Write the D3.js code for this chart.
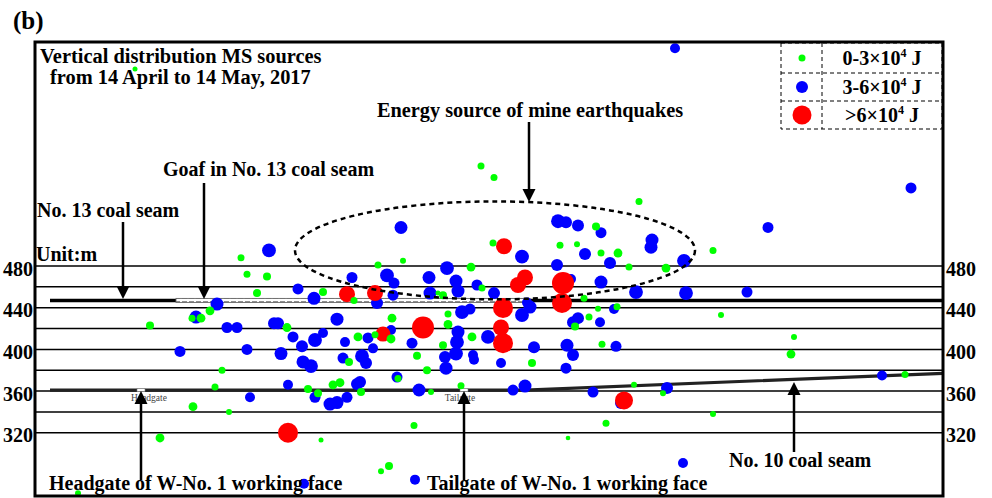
<!DOCTYPE html>
<html><head><meta charset="utf-8">
<script src="https://cdn.jsdelivr.net/npm/d3@7"></script>
<style>
body{margin:0;background:#fff}
svg{display:block}
text{font-family:"Liberation Serif","Times New Roman",serif;fill:#000}
</style>
</head><body>
<svg id="c" width="992" height="498"></svg>
<script>
// ---------------- DATA ----------------
// elevation gridlines (m) and labelled ticks
const gridElevations = [320, 340, 360, 380, 400, 420, 440, 460, 480];
const tickLabels = [320, 360, 400, 440, 480];
// legend classes (energy ×10^4 J)
const legendLabels = ["0-3×10", "3-6×10", ">6×10"];
const legendEnergy = [1.8, 4.8, 9.0];
// MS sources: [horizontal distance (m), elevation (m), energy (×10^4 J)]
const lowEnergy = [
  [100,669,0.6],[206,488,1.8],[212,472,1.8],[232,470,2.4],[222,454,2.4],[288,455,2.4],
  [175,437,2.9],[166,430,2.9],[157,430,1.8],[115,423,2.4],[252,421,2.9],[187,380,1.8],
  [180,364,1.8],[273,362,2.4],[283,358,2.4],[158,345,2.9],[194,340,1.2],[125,315,2.9],
  [286,313,0.6],[43,262,1.2],[343,481,1.8],[319,447,1.8],[323,412,2.9],[340,414,1.8],
  [314,388,2.4],[298,366,2.9],[305,368,2.9],[326,359,2.4],[458,502,1.8],[525,500,1.8],
  [542,501,1.2],[368,485,1.2],[436,479,2.9],[447,459,1.8],[549,449,1.8],[408,452,2.4],
  [403,454,0.6],[413,434,1.8],[413,424,2.9],[408,404,2.4],[437,412,2.9],[497,387,2.4],
  [540,422,2.4],[554,431,1.8],[357,430,2.9],[356,410,2.9],[382,394,2.4],[392,380,2.4],
  [363,372,1.8],[396,359,1.2],[426,365,1.8],[599,366,1.2],[571,329,1.8],[533,315,0.4],
  [379,327,1.8],[354,288,2.4],[346,283,1.2],[566,492.5,1.8],[583,492.5,2.9],[594,479,1.8],
  [563,439,1.2],[582,441,1.8],[567,405,1.8],[446,576,1.8],[459,565,1.8],[604,542,1.8],
  [561,518,2.4],[631,478,2.9],[678,495,1.8],[686,433,1.2],[759,412,1.2],[756,395.5,2.9],
  [628,358,1.2],[678,338,1.2],[870,376,1.8]
];
const midEnergy = [
  [234,495,5.9],[263,458,4.2],[279,449,5.4],[182,443.5,5.4],[161,431,5.4],[192,421,4.2],
  [202,421,4.2],[239,425,4.8],[243,425,4.8],[258,412,4.2],[280,409,5.9],[288,415.7,3.6],
  [267,403,4.8],[145,398,4.2],[212,400,4.2],[246,396,5.4],[268,388,5.4],[276,384,5.9],
  [253,366,3.6],[280,354,4.2],[215,354,3.6],[295,347.5,5.4],[302,349,5.4],[269,271,3.6],
  [317,469,4.2],[342,444.5,4.8],[302,429,5.4],[310,407,3.6],[333,411,4.2],[338,401,3.6],
  [308,391.7,4.2],[327,393.6,5.9],[331,387,4.8],[312,354,4.2],[322,366.7,4.8],[325,368.6,4.8],
  [550,491.5,4.8],[487,489,5.9],[522,481,4.8],[412,478,5.9],[352,471,5.9],[359,463.7,4.2],
  [394,469,5.4],[421,465.6,5.4],[423,456,5.4],[395,454,5.4],[442,461.8,4.2],[459,454,4.8],
  [487,433,5.9],[495,440.6,5.4],[492,445,3.6],[358,452,4.2],[427,435.8,5.9],[435,438.7,4.2],
  [423,416.6,5.4],[422,407,5.9],[421,396,5.9],[410,392.6,4.8],[411,382,5.4],[438,394.6,3.6],
  [439,390,3.6],[453,412,5.9],[466,387,3.6],[499,402,4.8],[532,404,5.4],[538,394.6,4.8],
  [531,382,4.2],[538,426,4.8],[543,430,4.8],[356,418.6,3.6],[377,406,4.2],[362,373.4,4.2],
  [384,361,5.4],[478,361,4.2],[490,364.8,5.4],[558,359,4.2],[586,348.5,4.8],[380,275,3.6],
  [566,512,4.2],[575,483,4.8],[617,505,5.4],[616,498,5.4],[566,464.6,5.4],[536,467.5,3.6],
  [601,455,5.9],[579,438.7,3.6],[565,426,3.6],[581,403,4.2],[366,517,5.4],[523,523,5.9],
  [531,522,4.8],[543,519,4.8],[649,485,5.9],[733,517,4.2],[651,454,5.9],[712,455,4.2],
  [632,363,4.8],[847,375,3.6],[648,291,3.6],[640,689,3.6],[876,555,4.2]
];
const highEnergy = [
  [253,320,9.6],[312,453,7.2],[340,454,7.2],[469,499,7.2],[483,461.8,7.2],[490,469,7.2],
  [528,463.7,10.8],[527,444.5,9.6],[468,439.7,9.6],[466,421,7.2],[468,406,9.6],[388,421,10.8],
  [348,414.7,6.6],[589,351,8.4]
];
// geological features: [distance, elevation]
const seam13Elev = 447;
const seam13Extent = [15, 908];
const goafExtent = [141, 495];
const seam10 = [[15,361],[490,361],[908,377]];
const roadways = [[106,"Headgate",114],[429,"Tailgate",425]];
const energyZone = {cx: 460, cy: 495, rx: 200, ry: 47};

// ---------------- CHART ----------------
const svg = d3.select("#c");
const x = d3.scaleLinear().domain([0, 908]).range([35, 943]);
const y = d3.scaleLinear().domain([259.3, 695]).range([496, 42]);
const r = d3.scaleLinear().domain([0, 12]).range([2, 12]);
const FONT = '"Liberation Serif","Times New Roman",serif';

const defs = svg.append("defs");
const pat = defs.append("pattern").attr("id","hatch").attr("patternUnits","userSpaceOnUse")
  .attr("width",7).attr("height",4).attr("y", 0);
pat.append("rect").attr("width",7).attr("height",4).attr("fill","#fff");
pat.append("rect").attr("x",0).attr("y",1.2).attr("width",5).attr("height",1.6).attr("fill","#777");

// gridlines
svg.append("g").selectAll("line").data(gridElevations).join("line")
  .attr("x1", x(0)).attr("x2", x(908))
  .attr("y1", d => y(d)).attr("y2", d => y(d))
  .attr("stroke", "#000").attr("stroke-width", 1.5);

// axes labels
const axL = svg.append("g").attr("transform", `translate(${x(0)},0)`)
  .call(d3.axisLeft(y).tickValues(tickLabels).tickSize(0).tickPadding(2));
const axR = svg.append("g").attr("transform", `translate(${x(908)},0)`)
  .call(d3.axisRight(y).tickValues(tickLabels).tickSize(0).tickPadding(3));
[axL, axR].forEach(a => {
  a.select(".domain").remove();
  a.selectAll("text").attr("font-size", 20).style("font-weight","bold")
    .attr("font-family", FONT).attr("dy","0.45em").style("fill","#000");
});

// No. 13 coal seam
svg.append("line").attr("x1", x(seam13Extent[0])).attr("x2", x(goafExtent[0]))
  .attr("y1", y(seam13Elev)).attr("y2", y(seam13Elev)).attr("stroke","#000").attr("stroke-width",3.5);
svg.append("line").attr("x1", x(goafExtent[1])).attr("x2", x(seam13Extent[1]))
  .attr("y1", y(seam13Elev)).attr("y2", y(seam13Elev)).attr("stroke","#000").attr("stroke-width",3.5);
svg.append("rect").attr("x", x(goafExtent[0])).attr("y", y(seam13Elev)-2)
  .attr("width", x(goafExtent[1]) - x(goafExtent[0])).attr("height", 4)
  .attr("fill","url(#hatch)").attr("stroke","#666").attr("stroke-width",0.9);

// No. 10 coal seam
svg.append("path").attr("d", d3.line().x(d => x(d[0])).y(d => y(d[1]))(seam10))
  .attr("fill","none").attr("stroke","#222").attr("stroke-width",3.2);

// roadway markers
roadways.forEach(([d, name, lab]) => {
  svg.append("rect").attr("x", x(d)-4).attr("y", y(361)-1.5).attr("width",8).attr("height",3)
    .attr("fill","#fff").attr("stroke","#777").attr("stroke-width",0.6);
  svg.append("text").attr("x", x(lab)).attr("y", y(361)+11).attr("text-anchor","middle")
    .attr("font-size",9.5).style("font-weight","normal").style("fill","#444").text(name);
});

// MS sources
const drawPts = (data, color) => svg.append("g").selectAll("circle").data(data).join("circle")
  .attr("cx", d => x(d[0])).attr("cy", d => y(d[1])).attr("r", d => r(d[2])).attr("fill", color);
drawPts(midEnergy, "#0000ff");
drawPts(highEnergy, "#ff0000");
drawPts(lowEnergy, "#00ff00");

// energy zone ellipse
svg.append("ellipse").attr("cx", x(energyZone.cx)).attr("cy", y(energyZone.cy))
  .attr("rx", x(energyZone.rx) - x(0)).attr("ry", y(0) - y(energyZone.ry))
  .attr("fill","none").attr("stroke","#000").attr("stroke-width",2.5).attr("stroke-dasharray","5,4");

// frame
svg.append("rect").attr("x", x(0)).attr("y", y(695)).attr("width", x(908)-x(0)).attr("height", y(259.3)-y(695))
  .attr("fill","none").attr("stroke","#000").attr("stroke-width",3);

// arrows
function arrow(xa, y0, yTip) {
  const dir = yTip > y0 ? 1 : -1;
  svg.append("line").attr("x1", xa).attr("x2", xa).attr("y1", y0).attr("y2", yTip - dir*10)
    .attr("stroke","#000").attr("stroke-width",2.5);
  svg.append("path").attr("d", `M${xa-6.5},${yTip-dir*13}L${xa+6.5},${yTip-dir*13}L${xa},${yTip}Z`).attr("fill","#000");
}
arrow(123, 222, 299);
arrow(204, 183, 299);
arrow(529, 122, 202);
arrow(141, 480, 391);
arrow(464, 480, 391);
arrow(794, 452, 382);

// texts
const T = (xx, yy, s, size=20, anchor="start") => svg.append("text").attr("x", xx).attr("y", yy)
  .attr("font-size", size).attr("text-anchor", anchor).style("font-weight","bold").text(s);
T(13, 29, "(b)", 25);
T(40, 63, "Vertical distribution MS sources", 20.4);
T(50, 84, "from 14 April to 14 May, 2017", 20.4);
T(377, 117, "Energy source of mine earthquakes", 20.3);
T(163, 176, "Goaf in No. 13 coal seam");
T(37, 217, "No. 13 coal seam");
T(36, 261, "Unit:m");
T(729, 467, "No. 10 coal seam");
T(49, 490, "Headgate of W-No. 1 working face");
T(427, 490, "Tailgate of W-No. 1 working face");

// legend
const lg = svg.append("g");
const lx0 = 781, lx1 = 822, lx2 = 942, ly = [43, 73, 101, 129];
const dashed = s => s.attr("stroke","#000").attr("stroke-width",1).attr("stroke-dasharray","4,3").attr("fill","none");
dashed(lg.append("rect").attr("x", lx0).attr("y", ly[0]).attr("width", lx2-lx0).attr("height", ly[3]-ly[0]));
dashed(lg.append("line").attr("x1", lx1).attr("x2", lx1).attr("y1", ly[0]).attr("y2", ly[3]));
[ly[1], ly[2]].forEach(v => dashed(lg.append("line").attr("x1", lx0).attr("x2", lx2).attr("y1", v).attr("y2", v)));
const colors = ["#00ff00","#0000ff","#ff0000"];
legendLabels.forEach((lab, i) => {
  const cy = (ly[i] + ly[i+1]) / 2;
  lg.append("circle").attr("cx", 802).attr("cy", cy).attr("r", r(legendEnergy[i])).attr("fill", colors[i]);
  const t = lg.append("text").attr("x", 882).attr("y", cy + 7).attr("text-anchor","middle")
    .attr("font-size", 20).style("font-weight","bold");
  t.append("tspan").text(lab);
  t.append("tspan").attr("font-size", 12).attr("dy", -8).text("4");
  t.append("tspan").attr("dy", 8).text(" J");
});
</script>
</body></html>
